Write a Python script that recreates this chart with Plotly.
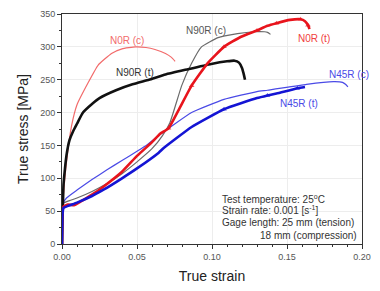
import plotly.graph_objects as go

# ---- data (strain, stress MPa) ----
n0r_c_x = [0, 0.0005, 0.001, 0.003, 0.0064, 0.01, 0.0173, 0.024, 0.033, 0.04, 0.049, 0.056, 0.062, 0.069, 0.073, 0.0754]
n0r_c_y = [0, 55, 75, 125, 180, 212, 245, 272, 290, 297, 300, 299, 296, 290, 284, 278]

n90r_t_x = [0, 0.0005, 0.001, 0.002, 0.003, 0.005, 0.0075, 0.01, 0.014, 0.02, 0.025, 0.036, 0.047, 0.058, 0.069, 0.084, 0.0995, 0.11, 0.115, 0.118, 0.12, 0.121, 0.122]
n90r_t_y = [0, 50, 90, 115, 135, 158, 172, 183, 200, 213, 222, 234, 243, 250, 258, 266, 274, 278, 279, 276, 268, 260, 250]

n90r_c_x = [0, 0.0003, 0.001, 0.005, 0.01, 0.02, 0.03, 0.04, 0.05, 0.06, 0.067, 0.072, 0.0798, 0.0864, 0.093, 0.104, 0.117, 0.128, 0.135, 0.137, 0.139]
n90r_c_y = [0, 50, 62, 66, 70, 80, 92, 107, 125, 145, 165, 185, 241, 275, 300, 314, 320, 323, 323, 322, 319]

n0r_t_x = [0, 0.0003, 0.001, 0.004, 0.008, 0.012, 0.02, 0.028, 0.04, 0.05, 0.06, 0.0656, 0.071, 0.078, 0.0864, 0.097, 0.108, 0.119, 0.13, 0.137, 0.143, 0.152, 0.159, 0.162, 0.164, 0.165]
n0r_t_y = [0, 50, 57, 60, 59, 64, 75, 88, 110, 134, 155, 168, 176, 205, 241, 275, 300, 315, 325, 332, 336, 341, 342, 339, 333, 327]

n45r_c_x = [0, 0.0003, 0.001, 0.003, 0.01, 0.02, 0.03, 0.04, 0.05, 0.0568, 0.0645, 0.0864, 0.108, 0.13, 0.137, 0.163, 0.181, 0.187, 0.189, 0.1906]
n45r_c_y = [0, 50, 63, 70, 82, 98, 113, 127, 141, 151, 165, 200, 220, 232, 234, 243, 247, 246, 243, 239]

n45r_t_x = [0, 0.0003, 0.001, 0.004, 0.01, 0.02, 0.028, 0.04, 0.05, 0.0645, 0.0678, 0.0864, 0.108, 0.13, 0.137, 0.143, 0.157, 0.162]
n45r_t_y = [0, 45, 55, 58, 63, 73, 83, 100, 115, 139, 146, 178, 205, 222, 226, 229, 237, 239]

x_ticks = [0.0, 0.05, 0.10, 0.15, 0.20]
x_tick_labels = ["0.00", "0.05", "0.10", "0.15", "0.20"]
y_ticks = [0, 50, 100, 150, 200, 250, 300, 350]

FONT = "Liberation Sans, Arial, sans-serif"

fig = go.Figure()

def add(x, y, color, width, ticks=False):
    tr = dict(x=x, y=y, mode="lines", line=dict(color=color, width=width, shape="spline", smoothing=0.4),
              hoverinfo="skip", showlegend=False)
    if ticks:
        tr["mode"] = "lines+markers"
        tr["marker"] = dict(symbol="triangle-up", color=color, line=dict(width=0),
                            size=[5 if (xx > 0.07 and i % 2 == 0) else 0 for i, xx in enumerate(x)])
    fig.add_trace(go.Scatter(**tr))

add(n0r_c_x, n0r_c_y, "#f26b6b", 1.2)
add(n90r_c_x, n90r_c_y, "#6a6a6a", 1.2)
add(n45r_c_x, n45r_c_y, "#4a4ae6", 1.2)
add(n90r_t_x, n90r_t_y, "#111111", 2.6)
add(n0r_t_x, n0r_t_y, "#e8141c", 2.6, ticks=True)
add(n45r_t_x, n45r_t_y, "#1414d4", 2.6, ticks=True)

labels = [
    ("N0R (c)", 0.0434, 309, "#f26b6b"),
    ("N90R (t)", 0.0487, 261, "#333333"),
    ("N90R (c)", 0.096, 325, "#555555"),
    ("N0R (t)", 0.168, 312, "#f04040"),
    ("N45R (c)", 0.191, 258, "#4a4ae6"),
    ("N45R (t)", 0.158, 214, "#4a4ae6"),
]
for t, x, y, c in labels:
    fig.add_annotation(x=x, y=y, text=t, showarrow=False, font=dict(family=FONT, size=10, color=c))

notes = [
    ("Test temperature: 25<sup>o</sup>C", 0.105, 68, "left"),
    ("Strain rate: 0.001 [s<sup>-1</sup>]", 0.105, 51, "left"),
    ("Gage length: 25 mm (tension)", 0.105, 33, "left"),
    ("18 mm (compression)", 0.198, 13, "right"),
]
for t, x, y, a in notes:
    fig.add_annotation(x=x, y=y, text=t, showarrow=False, xanchor=a,
                       font=dict(family=FONT, size=10, color="#333333"))

axis_common = dict(showline=True, linecolor="#333333", linewidth=1, mirror=True,
                   ticks="outside", ticklen=4, tickcolor="#333333",
                   showgrid=True, gridcolor="#ededed", gridwidth=1, zeroline=False,
                   tickfont=dict(family=FONT, size=9, color="#555555"))

fig.update_xaxes(range=[0, 0.2], tickvals=x_ticks, ticktext=x_tick_labels,
                 minor=dict(dtick=0.01, ticks="outside", ticklen=2, tickcolor="#333333", showgrid=False),
                 title=dict(text="True strain", font=dict(family=FONT, size=14, color="#222222"), standoff=10),
                 **axis_common)
fig.update_yaxes(range=[0, 350], tickvals=y_ticks,
                 minor=dict(dtick=25, ticks="outside", ticklen=2, tickcolor="#333333", showgrid=False),
                 title=dict(text="True stress [MPa]", font=dict(family=FONT, size=14, color="#222222"), standoff=8),
                 **axis_common)

fig.update_layout(width=380, height=291, margin=dict(l=62, r=14, t=9, b=42),
                  paper_bgcolor="white", plot_bgcolor="white")

fig.write_html("out.html", config={"displayModeBar": False},
               post_script="document.body.style.margin='0';document.body.style.padding='0';")
